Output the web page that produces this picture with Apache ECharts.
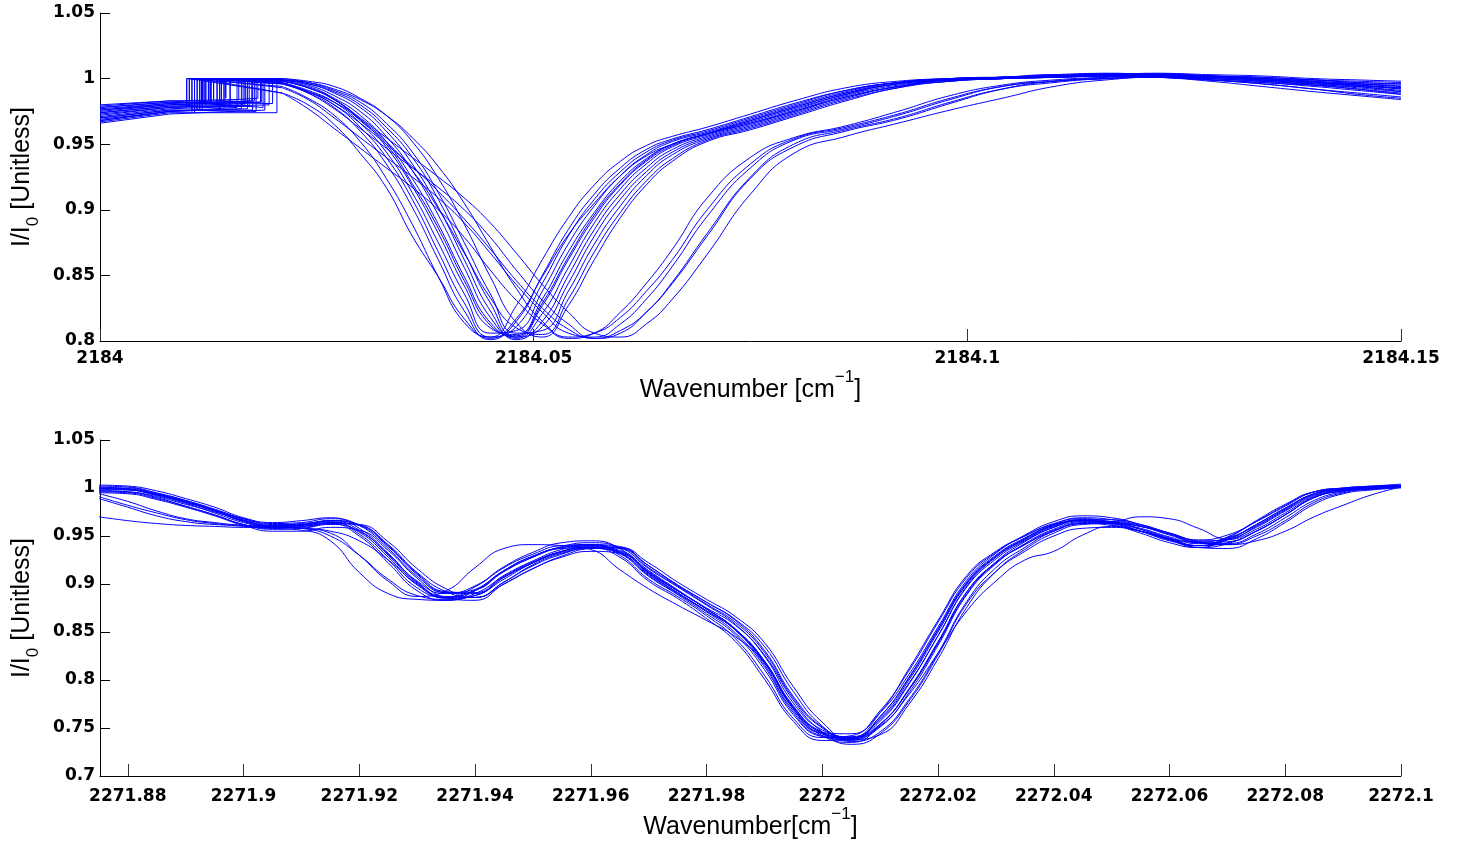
<!DOCTYPE html>
<html>
<head>
<meta charset="utf-8">
<script src="https://cdn.jsdelivr.net/npm/echarts@6/dist/echarts.min.js"></script>
<style>
html,body{margin:0;padding:0;background:#fff;}
#chart{width:1459px;height:845px;}
</style>
</head>
<body>
<div id="chart"></div>
<script>
// ---------------- DATA ----------------
// Top panel (2184 cm^-1 line)
const topXTicks = [2184, 2184.05, 2184.1, 2184.15];
const topYTicks = [0.8, 0.85, 0.9, 0.95, 1, 1.05];
const topX = [2184.021, 2184.024, 2184.027, 2184.030, 2184.033, 2184.036, 2184.039, 2184.042, 2184.045, 2184.048,
              2184.051, 2184.054, 2184.057, 2184.060, 2184.063, 2184.066, 2184.070, 2184.075, 2184.080, 2184.086,
              2184.092, 2184.098, 2184.104, 2184.110, 2184.116, 2184.122, 2184.128, 2184.134, 2184.140, 2184.145, 2184.150];
const topA1 = [0.994,0.985,0.972,0.952,0.924,0.889,0.849,0.814,0.803,0.827,0.862,0.894,0.919,0.937,0.949,0.956,0.963,0.973,0.983,0.993,0.998,1.000,1.001,1.002,1.003,1.002,1.000,0.998,0.996,0.995,0.993];
const topA2 = [0.996,0.989,0.978,0.960,0.935,0.902,0.862,0.823,0.801,0.815,0.850,0.885,0.912,0.932,0.946,0.954,0.961,0.971,0.981,0.991,0.997,1.000,1.001,1.003,1.004,1.003,1.001,0.999,0.997,0.994,0.991];
const topA3 = [0.997,0.991,0.982,0.966,0.944,0.913,0.875,0.836,0.806,0.808,0.838,0.874,0.903,0.926,0.942,0.952,0.959,0.969,0.979,0.990,0.997,0.999,1.000,1.002,1.003,1.004,1.002,1.000,0.999,0.997,0.996];
const topA4 = [0.998,0.994,0.985,0.972,0.952,0.924,0.889,0.849,0.814,0.803,0.827,0.862,0.894,0.919,0.937,0.949,0.958,0.967,0.977,0.988,0.996,0.999,1.000,1.001,1.002,1.002,1.001,0.999,0.996,0.993,0.990];
const topA5 = [0.999,0.996,0.989,0.978,0.960,0.935,0.902,0.862,0.823,0.801,0.815,0.850,0.885,0.912,0.932,0.946,0.956,0.965,0.975,0.987,0.995,0.999,1.001,1.002,1.004,1.003,1.002,1.001,0.999,0.998,0.997];
const topA6 = [1.000,0.997,0.991,0.982,0.966,0.944,0.913,0.875,0.836,0.806,0.808,0.838,0.874,0.903,0.926,0.942,0.954,0.963,0.973,0.985,0.994,0.998,1.000,1.001,1.002,1.001,0.999,0.997,0.994,0.991,0.988];
const topA7 = [1.000,0.998,0.994,0.985,0.972,0.952,0.924,0.889,0.849,0.814,0.803,0.827,0.862,0.894,0.919,0.937,0.952,0.961,0.971,0.983,0.993,0.998,1.000,1.002,1.003,1.003,1.002,1.000,0.998,0.996,0.994];
const topA8 = [0.998,0.993,0.984,0.969,0.948,0.918,0.882,0.842,0.810,0.805,0.832,0.868,0.898,0.922,0.939,0.950,0.958,0.968,0.978,0.989,0.996,0.999,1.001,1.002,1.003,1.002,1.000,0.998,0.995,0.992,0.989];
const topA9 = [0.999,0.995,0.987,0.975,0.956,0.930,0.896,0.856,0.818,0.802,0.821,0.856,0.890,0.916,0.935,0.948,0.957,0.966,0.976,0.988,0.996,0.999,1.000,1.001,1.003,1.004,1.003,1.002,1.000,0.999,0.998];
const topA10 = [0.997,0.990,0.980,0.963,0.940,0.908,0.868,0.829,0.803,0.811,0.844,0.880,0.908,0.929,0.944,0.953,0.960,0.970,0.980,0.991,0.997,1.000,1.001,1.002,1.003,1.002,1.001,0.999,0.997,0.995,0.992];
const topA11 = [0.989,0.980,0.965,0.943,0.917,0.880,0.849,0.817,0.802,0.817,0.849,0.881,0.905,0.926,0.941,0.950,0.958,0.966,0.975,0.986,0.994,0.999,1.001,1.003,1.003,1.002,0.999,0.996,0.992,0.989,0.986];
const topA12 = [0.999,0.996,0.990,0.980,0.963,0.940,0.908,0.868,0.829,0.803,0.811,0.844,0.880,0.908,0.929,0.944,0.955,0.964,0.974,0.986,0.994,0.999,1.000,1.002,1.002,1.001,0.999,0.997,0.995,0.994,0.993];
const topA13 = [0.996,0.990,0.982,0.969,0.952,0.930,0.901,0.867,0.833,0.810,0.805,0.832,0.868,0.898,0.922,0.939,0.953,0.962,0.972,0.984,0.993,0.998,1.000,1.001,1.002,1.003,1.002,1.000,0.997,0.994,0.990];
const topA14 = [0.998,0.993,0.984,0.968,0.950,0.920,0.886,0.846,0.812,0.804,0.829,0.864,0.896,0.920,0.938,0.950,0.958,0.968,0.978,0.989,0.997,1.000,1.001,1.001,1.002,1.001,0.998,0.994,0.990,0.987,0.984];
const topB1 = [0.989,0.977,0.962,0.947,0.932,0.917,0.900,0.879,0.854,0.831,0.813,0.802,0.806,0.822,0.844,0.870,0.909,0.940,0.955,0.964,0.975,0.987,0.995,0.999,1.001,1.002,1.001,0.999,0.997,0.995,0.992];
const topB2 = [0.993,0.984,0.970,0.955,0.940,0.925,0.909,0.890,0.867,0.843,0.822,0.806,0.803,0.813,0.832,0.857,0.895,0.932,0.953,0.962,0.972,0.984,0.994,0.998,1.000,1.002,1.001,1.000,0.998,0.996,0.995];
const topB3 = [0.997,0.989,0.977,0.962,0.947,0.932,0.917,0.900,0.879,0.854,0.831,0.813,0.802,0.806,0.822,0.844,0.880,0.924,0.948,0.960,0.969,0.981,0.992,0.998,1.000,1.001,1.000,0.998,0.995,0.992,0.988];
const topB4 = [0.999,0.993,0.984,0.970,0.955,0.940,0.925,0.909,0.890,0.867,0.843,0.822,0.806,0.803,0.813,0.832,0.866,0.912,0.943,0.956,0.966,0.976,0.985,0.994,0.999,1.001,1.001,0.999,0.997,0.996,0.994];
const topB5 = [0.999,0.997,0.992,0.984,0.972,0.955,0.933,0.905,0.872,0.840,0.815,0.803,0.806,0.818,0.838,0.862,0.900,0.935,0.954,0.963,0.973,0.985,0.994,0.998,1.001,1.003,1.002,1.001,0.999,0.997,0.996];
const topB6 = [0.996,0.990,0.980,0.966,0.950,0.933,0.914,0.893,0.870,0.846,0.825,0.809,0.802,0.808,0.822,0.845,0.882,0.925,0.950,0.961,0.970,0.982,0.992,0.997,1.000,1.001,0.999,0.996,0.992,0.988,0.985];
// left-hand stepped part of each top spectrum (x at start, x at 2184.008, box edges)
const stepXStart = 2184.000;
const stepXMid = 2184.008;
const stepY0 = [0.972,0.968,0.976,0.980,0.970,0.974,0.966,0.978,0.971,0.975,0.969,0.973,0.977,0.967,0.979,0.974,0.970,0.978,0.968,0.976];
const stepYm = [0.978,0.975,0.981,0.983,0.976,0.979,0.973,0.982,0.977,0.980,0.975,0.978,0.981,0.974,0.983,0.979,0.976,0.982,0.975,0.980];
const stepYb = [0.980,0.977,0.983,0.984,0.975,0.981,0.976,0.982,0.979,0.983,0.977,0.980,0.985,0.974,0.978,0.979,0.976,0.981,0.978,0.982];
const stepYt = [1.000,1.000,1.000,1.000,1.000,1.000,1.000,1.000,1.000,1.000,1.000,1.000,1.000,1.000,1.000,1.000,1.000,1.000,1.000,1.000];
const stepXl = [2184.0100,2184.0118,2184.0125,2184.0131,2184.0106,2184.0140,2184.0112,2184.0120,2184.0135,2184.0128,
                2184.0115,2184.0122,2184.0145,2184.0109,2184.0150,2184.0103,2184.0138,2184.0127,2184.0143,2184.0117];
const stepXr = [2184.0165,2184.0170,2184.0175,2184.0160,2184.0180,2184.0168,2184.0190,2184.0185,2184.0172,2184.0178,
                2184.0163,2184.0195,2184.0182,2184.0204,2184.0188,2184.0167,2184.0176,2184.0199,2184.0158,2184.0186];

// Bottom panel (2272 cm^-1 line)
const botXTicks = [2271.88, 2271.9, 2271.92, 2271.94, 2271.96, 2271.98, 2272, 2272.02, 2272.04, 2272.06, 2272.08, 2272.1];
const botYTicks = [0.7, 0.75, 0.8, 0.85, 0.9, 0.95, 1, 1.05];
const botX = [2271.875,2271.880,2271.885,2271.890,2271.895,2271.900,2271.905,2271.910,2271.915,2271.920,
              2271.925,2271.930,2271.935,2271.940,2271.945,2271.950,2271.955,2271.960,2271.965,2271.970,
              2271.975,2271.980,2271.985,2271.990,2271.995,2272.000,2272.005,2272.010,2272.015,2272.020,
              2272.025,2272.030,2272.035,2272.040,2272.045,2272.050,2272.055,2272.060,2272.065,2272.070,
              2272.075,2272.080,2272.085,2272.090,2272.095,2272.100];
const botM1 = [1.002,1.001,0.995,0.987,0.977,0.966,0.961,0.963,0.965,0.952,0.925,0.896,0.886,0.897,0.917,0.931,0.940,0.941,0.930,0.905,0.887,0.867,0.843,0.805,0.760,0.740,0.742,0.768,0.810,0.860,0.907,0.933,0.950,0.963,0.968,0.964,0.955,0.945,0.940,0.949,0.965,0.982,0.996,1.000,1.002,1.003];
const botM2 = [0.997,0.996,0.991,0.983,0.975,0.966,0.960,0.960,0.964,0.961,0.941,0.912,0.892,0.886,0.902,0.919,0.931,0.938,0.937,0.919,0.899,0.881,0.863,0.835,0.788,0.752,0.736,0.746,0.780,0.828,0.882,0.917,0.938,0.955,0.963,0.964,0.960,0.952,0.943,0.942,0.952,0.969,0.987,0.996,0.999,1.001];
const botM3 = [1.000,1.000,0.994,0.986,0.977,0.968,0.963,0.964,0.968,0.961,0.937,0.908,0.891,0.894,0.913,0.928,0.939,0.943,0.938,0.916,0.897,0.878,0.858,0.825,0.776,0.748,0.741,0.759,0.797,0.846,0.898,0.928,0.947,0.962,0.969,0.967,0.961,0.952,0.944,0.948,0.961,0.978,0.994,0.999,1.001,1.003];
const botM4 = [0.996,0.995,0.989,0.981,0.972,0.962,0.957,0.958,0.962,0.955,0.931,0.902,0.885,0.888,0.907,0.922,0.933,0.937,0.932,0.910,0.891,0.872,0.852,0.819,0.770,0.742,0.735,0.753,0.791,0.840,0.892,0.922,0.941,0.956,0.963,0.961,0.955,0.946,0.938,0.942,0.955,0.972,0.990,0.997,0.999,1.001];
const botM5 = [0.999,0.999,0.993,0.985,0.976,0.965,0.960,0.962,0.966,0.956,0.930,0.901,0.887,0.893,0.913,0.928,0.938,0.941,0.933,0.909,0.890,0.871,0.849,0.814,0.766,0.742,0.739,0.762,0.802,0.852,0.901,0.929,0.947,0.961,0.967,0.965,0.957,0.947,0.940,0.947,0.962,0.979,0.994,0.999,1.001,1.002];
const botM6 = [1.001,0.999,0.993,0.985,0.976,0.966,0.961,0.961,0.966,0.961,0.939,0.910,0.891,0.890,0.907,0.922,0.934,0.940,0.938,0.917,0.898,0.879,0.860,0.829,0.781,0.750,0.739,0.751,0.787,0.836,0.889,0.921,0.942,0.957,0.965,0.965,0.960,0.951,0.943,0.944,0.955,0.972,0.990,0.997,1.000,1.002];
const botM7 = [0.997,0.996,0.990,0.981,0.972,0.962,0.958,0.960,0.963,0.950,0.922,0.893,0.883,0.893,0.914,0.929,0.937,0.938,0.928,0.903,0.885,0.864,0.840,0.801,0.757,0.737,0.739,0.766,0.812,0.862,0.909,0.934,0.950,0.962,0.966,0.962,0.953,0.943,0.938,0.948,0.966,0.983,0.996,0.999,1.001,1.002];
const botM8 = [0.998,0.998,0.993,0.986,0.977,0.967,0.960,0.959,0.963,0.962,0.944,0.916,0.895,0.886,0.900,0.916,0.929,0.937,0.938,0.922,0.902,0.884,0.866,0.839,0.793,0.756,0.738,0.743,0.775,0.822,0.876,0.913,0.936,0.953,0.962,0.963,0.960,0.953,0.944,0.941,0.950,0.966,0.985,0.995,0.999,1.001];
const botM9 = [1.003,1.002,0.997,0.989,0.980,0.969,0.964,0.966,0.969,0.958,0.932,0.903,0.890,0.898,0.918,0.933,0.943,0.945,0.937,0.912,0.893,0.874,0.852,0.816,0.768,0.745,0.744,0.766,0.806,0.855,0.904,0.932,0.951,0.965,0.971,0.969,0.962,0.953,0.946,0.951,0.965,0.981,0.996,1.000,1.002,1.004];
const botM10 = [0.995,0.994,0.988,0.980,0.971,0.961,0.955,0.955,0.959,0.956,0.935,0.906,0.886,0.883,0.900,0.916,0.928,0.934,0.932,0.913,0.893,0.875,0.857,0.826,0.779,0.746,0.733,0.744,0.778,0.826,0.880,0.913,0.934,0.950,0.958,0.959,0.955,0.947,0.938,0.937,0.947,0.964,0.983,0.994,0.998,1.000];
const botM11 = [0.999,0.998,0.992,0.984,0.974,0.964,0.959,0.961,0.964,0.954,0.928,0.899,0.886,0.894,0.914,0.929,0.938,0.940,0.932,0.908,0.889,0.869,0.847,0.811,0.764,0.741,0.738,0.762,0.803,0.853,0.902,0.930,0.948,0.961,0.966,0.963,0.955,0.946,0.940,0.946,0.962,0.979,0.994,0.999,1.001,1.002];
const botM12 = [1.000,0.999,0.994,0.987,0.978,0.968,0.962,0.962,0.966,0.962,0.940,0.911,0.892,0.891,0.909,0.924,0.936,0.941,0.939,0.919,0.899,0.881,0.862,0.831,0.783,0.751,0.740,0.754,0.790,0.839,0.892,0.923,0.944,0.959,0.967,0.967,0.962,0.953,0.945,0.946,0.957,0.974,0.991,0.998,1.000,1.002];
const botO1 = [0.991,0.982,0.974,0.967,0.963,0.960,0.958,0.956,0.945,0.912,0.890,0.884,0.883,0.890,0.908,0.923,0.934,0.938,0.934,0.912,0.893,0.874,0.853,0.820,0.771,0.744,0.737,0.754,0.790,0.838,0.890,0.922,0.941,0.955,0.964,0.963,0.957,0.948,0.940,0.943,0.955,0.972,0.990,0.997,1.000,1.002];
const botO2 = [0.970,0.966,0.963,0.961,0.960,0.959,0.959,0.958,0.953,0.930,0.903,0.887,0.893,0.917,0.937,0.941,0.940,0.936,0.915,0.895,0.878,0.862,0.845,0.818,0.772,0.745,0.739,0.757,0.796,0.846,0.897,0.926,0.945,0.959,0.966,0.964,0.958,0.949,0.942,0.946,0.959,0.976,0.992,0.998,1.000,1.002];
const botO3 = [0.994,0.986,0.976,0.968,0.964,0.961,0.959,0.958,0.955,0.945,0.925,0.900,0.886,0.886,0.902,0.920,0.932,0.937,0.933,0.911,0.891,0.872,0.852,0.818,0.770,0.744,0.740,0.760,0.800,0.850,0.900,0.928,0.946,0.960,0.966,0.965,0.970,0.968,0.958,0.947,0.960,0.977,0.993,0.998,1.000,1.002];
const botO4 = [0.989,0.980,0.971,0.965,0.962,0.961,0.960,0.958,0.950,0.930,0.905,0.888,0.884,0.888,0.905,0.922,0.934,0.939,0.935,0.914,0.894,0.874,0.853,0.820,0.773,0.746,0.740,0.752,0.785,0.828,0.872,0.903,0.925,0.934,0.951,0.960,0.955,0.947,0.943,0.941,0.945,0.955,0.970,0.982,0.993,1.001];

// ---------------- CHART ----------------
const topLines = [topA1, topA2, topA3, topA4, topA5, topA6, topA7, topA8, topA9, topA10,
                  topB1, topB2, topB3, topB4, topB5, topA11, topA12, topA13, topA14, topB6];
const botLines = [botM1, botM2, botM3, botM4, botM5, botM6, botM7, botM8, botM9, botM10, botM11, botM12,
                  botO1, botO2, botO3, botO4];

const BLUE = '#0000ff';
const tickFont = {fontFamily: 'DejaVu Sans', fontWeight: 'bold', fontSize: 17, color: '#000'};
const fmt = v => String(parseFloat(Number(v).toFixed(2)));

const titleRich = {
  a: {fontFamily: 'Liberation Sans', fontSize: 25, color: '#000', lineHeight: 42, verticalAlign: 'middle'},
  s: {fontFamily: 'Liberation Sans', fontSize: 17, color: '#000', lineHeight: 17, verticalAlign: 'top'}
};
const yTitleRich = {
  a: {fontFamily: 'Liberation Sans', fontSize: 25, color: '#000', lineHeight: 40, verticalAlign: 'middle'},
  b: {fontFamily: 'Liberation Sans', fontSize: 17, color: '#000', lineHeight: 17, verticalAlign: 'bottom'}
};

function xAxisDef(gi, min, max, ticks, name, gap, margin) {
  return {
    type: 'value', gridIndex: gi, min: min, max: max,
    axisLine: {show: true, onZero: false, lineStyle: {color: '#000', width: 1}},
    axisTick: {show: true, inside: true, length: 12, customValues: ticks, lineStyle: {color: '#333', width: 1}},
    axisLabel: Object.assign({customValues: ticks, formatter: fmt, margin: margin, hideOverlap: false}, tickFont),
    splitLine: {show: false},
    name: name, nameLocation: 'middle', nameGap: gap, nameTextStyle: {rich: titleRich}
  };
}
function yAxisDef(gi, min, max, ticks) {
  return {
    type: 'value', gridIndex: gi, min: min, max: max,
    axisLine: {show: true, onZero: false, lineStyle: {color: '#000', width: 1}},
    axisTick: {show: true, inside: true, length: 10, customValues: ticks, lineStyle: {color: '#000', width: 1}},
    axisLabel: Object.assign({customValues: ticks, formatter: fmt, margin: 5, hideOverlap: false}, tickFont),
    splitLine: {show: false},
    name: '{a|I/I}{b|0}{a| [Unitless]}', nameLocation: 'middle', nameRotate: 90, nameGap: 54,
    nameTextStyle: {rich: yTitleRich}
  };
}

const series = [];
topLines.forEach((line, i) => {
  const step = [
    [stepXStart, stepY0[i]], [stepXMid, stepYm[i]], [stepXr[i], stepYb[i]],
    [stepXr[i], stepYt[i]], [stepXl[i], stepYt[i]], [stepXl[i], stepYb[i]],
    [stepXl[i], stepYt[i]], [topX[0], line[0]]
  ];
  series.push({type: 'line', xAxisIndex: 0, yAxisIndex: 0, data: step, showSymbol: false, symbol: 'none',
    smooth: false, lineStyle: {color: BLUE, width: 1}, silent: true, animation: false});
  series.push({type: 'line', xAxisIndex: 0, yAxisIndex: 0, data: topX.map((x, j) => [x, line[j]]),
    showSymbol: false, symbol: 'none', smooth: 0.5, lineStyle: {color: BLUE, width: 1}, silent: true, animation: false});
});
botLines.forEach(line => {
  series.push({type: 'line', xAxisIndex: 1, yAxisIndex: 1, data: botX.map((x, j) => [x, line[j]]),
    showSymbol: false, symbol: 'none', smooth: 0.5, lineStyle: {color: BLUE, width: 1}, silent: true, animation: false});
});

const chart = echarts.init(document.getElementById('chart'), null, {renderer: 'canvas'});
chart.setOption({
  backgroundColor: '#ffffff',
  animation: false,
  grid: [
    {left: 100, right: 58, top: 13, height: 328, containLabel: false},
    {left: 100, right: 58, top: 440, height: 336, containLabel: false}
  ],
  xAxis: [
    xAxisDef(0, 2184, 2184.15, topXTicks, '{a|Wavenumber [cm}{s|−1}{a|]}', 28, 9),
    xAxisDef(1, 2271.8752, 2272.1, botXTicks, '{a|Wavenumber[cm}{s|−1}{a|]}', 27, 12)
  ],
  yAxis: [
    yAxisDef(0, 0.8, 1.05, topYTicks),
    yAxisDef(1, 0.7, 1.05, botYTicks)
  ],
  series: series
});
</script>
</body>
</html>
